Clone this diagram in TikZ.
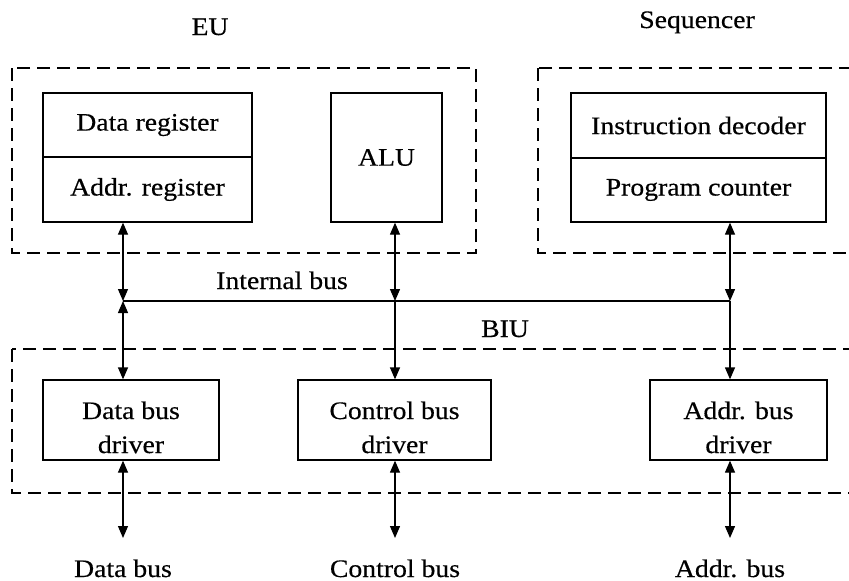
\documentclass[tikz,border=0pt]{standalone}
\usepackage{fontspec}
\setmainfont[FakeStretch=1.1,FakeBold=0.4]{Liberation Serif}
\usetikzlibrary{arrows.meta}
\newcommand\dfs{\fontsize{25.2}{34}\selectfont}
\begin{document}
\begin{tikzpicture}[x=1pt,y=-1pt,
  blk/.style={draw, line width=1.3pt, inner sep=0pt, font=\dfs},
  txt/.style={inner sep=0pt, font=\dfs, align=center},
  lbl/.style={inner sep=0pt, font=\dfs, anchor=base},
  dbox/.style={draw, line width=1.3pt, dash pattern=on 13pt off 7pt},
  conn/.style={line width=1.3pt},
  both/.style={conn, {Triangle[width=10pt,length=12pt]}-{Triangle[width=10pt,length=12pt]}},
  one/.style={conn, -{Triangle[width=10pt,length=12pt]}}]
\useasboundingbox (0,0) rectangle (849,581);
\clip (0,0) rectangle (849,581);
% dashed groups
\draw[dbox] (12,68) rectangle (476,253);
\draw[dbox] (538,68) rectangle (880,253);
\draw[dbox] (12,349) rectangle (880,493);
% group labels
\node[lbl] (eul) at (210,35) {EU};
\node[lbl] (seql) at (697,28) {Sequencer};
\node[lbl] (ibl) at (282,289) {Internal bus};
\node[lbl] (biul) at (505,337) {BIU};
% EU blocks
\node[blk, minimum width=209pt, minimum height=64pt] (dreg) at (147.5,125) {Data register};
\node[blk, minimum width=209pt, minimum height=65pt] (areg) at (147.5,189.5) {Addr. register};
\node[blk, minimum width=111pt, minimum height=129pt] (alu) at (386.5,157.5) {ALU};
% Sequencer blocks
\node[blk, minimum width=255pt, minimum height=65pt] (idec) at (698.5,125.5) {Instruction decoder};
\node[blk, minimum width=255pt, minimum height=64pt] (pc) at (698.5,190) {Program counter};
% BIU drivers
\node[blk, minimum width=176pt, minimum height=80pt] (ddrv) at (131,420) {};
\node[blk, minimum width=193pt, minimum height=80pt] (cdrv) at (394.5,420) {};
\node[blk, minimum width=177pt, minimum height=80pt] (adrv) at (738.5,420) {};
\node[txt] (ddrvt) at (131,427.4) {Data bus\\driver};
\node[txt] (cdrvt) at (394.5,427.4) {Control bus\\driver};
\node[txt] (adrvt) at (738.5,427.4) {Addr. bus\\driver};
% external bus labels
\node[lbl] (dbus) at (123,577) {Data bus};
\node[lbl] (cbus) at (395,577) {Control bus};
\node[lbl] (abus) at (730,577) {Addr. bus};
% internal bus
\coordinate (b1) at (123,301);
\coordinate (b2) at (395,301);
\coordinate (b3) at (730,301);
\draw[conn] (b1) -- (b3);
% connectors
\draw[both] (b1 |- areg.south) -- (b1);
\draw[both] (b1) -- (b1 |- ddrv.north);
\draw[both] (b2 |- alu.south) -- (b2);
\draw[one] (b2) -- (b2 |- cdrv.north);
\draw[both] (b3 |- pc.south) -- (b3);
\draw[one] (b3) -- (b3 |- adrv.north);
\coordinate (e1) at (123,538);
\coordinate (e2) at (395,538);
\coordinate (e3) at (730,538);
\draw[both] (e1 |- ddrv.south) -- (e1);
\draw[both] (e2 |- cdrv.south) -- (e2);
\draw[both] (e3 |- adrv.south) -- (e3);
\end{tikzpicture}
\end{document}
